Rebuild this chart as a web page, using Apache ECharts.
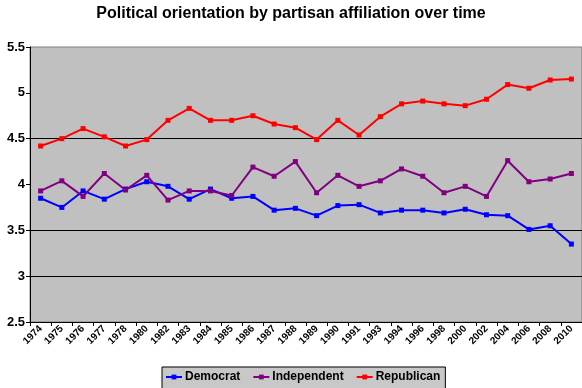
<!DOCTYPE html>
<html><head><meta charset="utf-8">
<script src="https://cdn.jsdelivr.net/npm/echarts@6/dist/echarts.min.js"></script>
<style>html,body{margin:0;padding:0;background:#fff}#c{width:582px;height:388px}</style>
</head><body><div id="c"></div>
<script>
const years = ['1974','1975','1976','1977','1978','1980','1982','1983','1984','1985','1986','1987','1988','1989','1990','1991','1993','1994','1996','1998','2000','2002','2004','2006','2008','2010'];
const democrat = [3.85,3.75,3.93,3.84,3.95,4.03,3.98,3.84,3.95,3.85,3.87,3.72,3.74,3.66,3.77,3.78,3.69,3.72,3.72,3.69,3.73,3.67,3.66,3.51,3.55,3.35];
const independent = [3.93,4.04,3.87,4.12,3.94,4.10,3.83,3.93,3.93,3.88,4.19,4.09,4.25,3.91,4.10,3.98,4.04,4.17,4.09,3.91,3.98,3.87,4.26,4.03,4.06,4.12];
const republican = [4.42,4.50,4.61,4.52,4.42,4.49,4.70,4.83,4.70,4.70,4.75,4.66,4.62,4.49,4.70,4.54,4.74,4.88,4.91,4.88,4.86,4.93,5.09,5.05,5.14,5.15];
const yTicks = [2.5,3,3.5,4,4.5,5,5.5];

const chart = echarts.init(document.getElementById('c'));
const font = 'Arial, "Liberation Sans", sans-serif';
function s(name, data, color){
  return {name, type:'line', data, symbol:'rect', symbolSize:5, showSymbol:true,
    lineStyle:{color, width:2}, itemStyle:{color}, animation:false};
}
chart.setOption({
  animation:false,
  title:{text:'Political orientation by partisan affiliation over time', left:'center', top:1,
    textStyle:{fontFamily:font, fontWeight:'bold', fontSize:16, color:'#000'}},
  grid:{left:30, right:0, top:47, bottom:66, show:true, backgroundColor:'#c0c0c0', borderColor:'#808080', borderWidth:1},
  legend:{top:367, left:162, itemWidth:16, itemHeight:6, itemGap:12,
    borderColor:'#000', borderWidth:1, backgroundColor:'#c8c8c8', padding:[4,5,8,3],
    textStyle:{fontFamily:font, fontWeight:'bold', fontSize:12, color:'#000', padding:[0,0,0,-2]},
    data:['Democrat','Independent','Republican']},
  xAxis:{type:'category', data:years, boundaryGap:true,
    axisLine:{lineStyle:{color:'#000', width:1}},
    axisTick:{show:true, alignWithLabel:false, lineStyle:{color:'#000'}, length:4},
    axisLabel:{interval:0, rotate:45, fontFamily:font, fontWeight:'bold', fontSize:10, color:'#000', margin:5},
    splitLine:{show:false}},
  yAxis:{type:'value', min:2.5, max:5.5, interval:0.5,
    axisLine:{show:true, lineStyle:{color:'#000'}},
    axisTick:{show:true, length:4, lineStyle:{color:'#000'}},
    axisLabel:{fontFamily:font, fontWeight:'bold', fontSize:13, color:'#000', margin:5,
      formatter:v=>String(Math.round(v*10)/10)},
    splitLine:{show:true, lineStyle:{color:['rgba(0,0,0,0)','#000','#000','rgba(0,0,0,0)','#000','rgba(0,0,0,0)','rgba(0,0,0,0)'], width:1}}},
  series:[s('Democrat',democrat,'#0000ff'), s('Independent',independent,'#800080'), s('Republican',republican,'#ff0000')]
});
</script></body></html>
